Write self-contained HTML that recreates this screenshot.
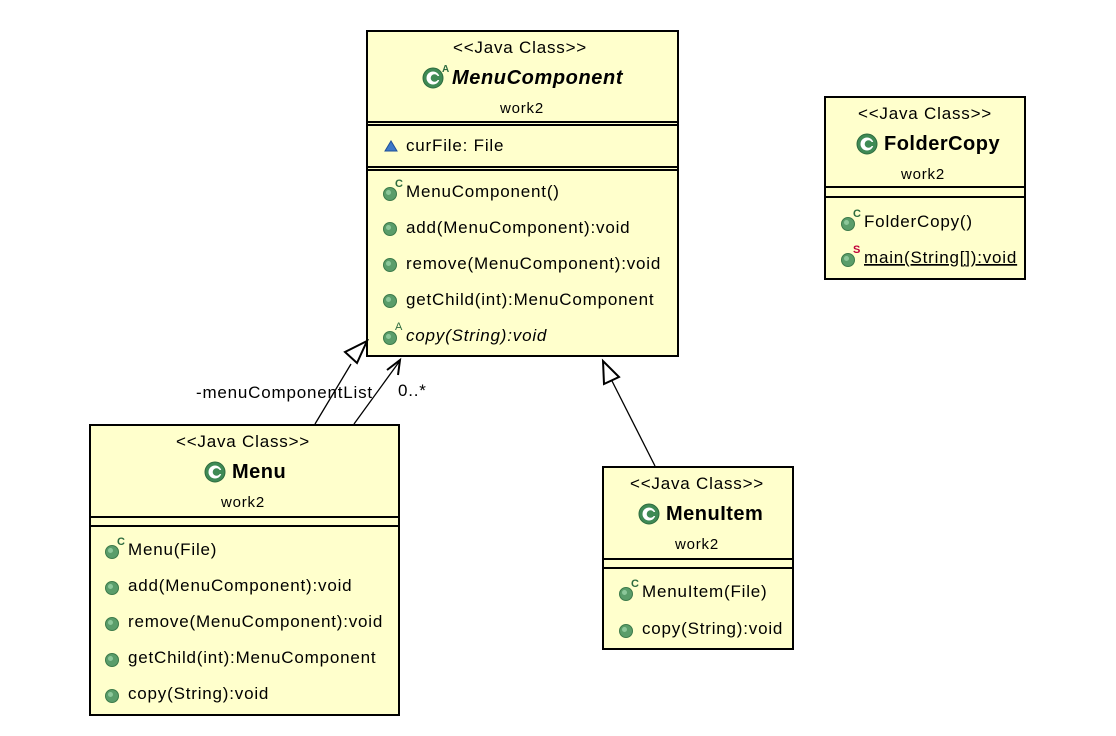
<!DOCTYPE html>
<html><head><meta charset="utf-8"><style>
html,body{margin:0;padding:0;background:#fff;}
svg text{font-family:"Liberation Sans",sans-serif;font-size:17px;letter-spacing:0.8px;fill:#000;}
</style></head><body>
<svg width="1116" height="731" xmlns="http://www.w3.org/2000/svg">
<defs>
<g id="m"><circle cx="0" cy="0" r="6.5" fill="#5a9d6a" stroke="#3c7a4a" stroke-width="1"/><circle cx="-1.5" cy="-1.5" r="2.5" fill="#8cc79a"/></g>
<g id="ci"><circle cx="0" cy="0" r="10" fill="#3f8a55" stroke="#2d6b3e"/><circle cx="0" cy="0" r="6.5" fill="#fff"/><circle cx="1.5" cy="0" r="3.8" fill="#3f8a55"/><rect x="2" y="-2" width="6" height="4" fill="#3f8a55"/></g>
</defs>

<!-- MenuComponent -->
<rect x="367" y="31" width="311" height="325" fill="#ffffcc" stroke="#000" stroke-width="2"/>
<line x1="367" y1="122" x2="678" y2="122" stroke="#000" stroke-width="2"/>
<line x1="367" y1="125" x2="678" y2="125" stroke="#000" stroke-width="2"/>
<line x1="367" y1="167" x2="678" y2="167" stroke="#000" stroke-width="2"/>
<line x1="367" y1="170" x2="678" y2="170" stroke="#000" stroke-width="2"/>
<text x="520" y="53" text-anchor="middle">&lt;&lt;Java Class&gt;&gt;</text>
<use href="#ci" x="433" y="78"/><text x="442" y="72" style="font-size:10px;fill:#2d6b3e;font-weight:bold">A</text>
<text x="452" y="84" style="font-weight:bold;font-style:italic;font-size:20px;letter-spacing:0.6px">MenuComponent</text>
<text x="522" y="113" text-anchor="middle" style="font-size:15px">work2</text>
<path d="M385 151 L391 141 L397 151 Z" fill="#3c78c8" stroke="#1e4f99"/>
<text x="406" y="151">curFile: File</text>
<use href="#m" x="390" y="194"/><text x="395" y="187" style="font-size:11px;fill:#2d6b3e;font-weight:bold">C</text><text x="406" y="197">MenuComponent()</text>
<use href="#m" x="390" y="229"/><text x="406" y="233">add(MenuComponent):void</text>
<use href="#m" x="390" y="265"/><text x="406" y="269">remove(MenuComponent):void</text>
<use href="#m" x="390" y="301"/><text x="406" y="305">getChild(int):MenuComponent</text>
<use href="#m" x="390" y="338"/><text x="395" y="330" style="font-size:11px;fill:#2d6b3e">A</text><text x="406" y="341" style="font-style:italic">copy(String):void</text>

<!-- FolderCopy -->
<rect x="825" y="97" width="200" height="182" fill="#ffffcc" stroke="#000" stroke-width="2"/>
<line x1="825" y1="187" x2="1025" y2="187" stroke="#000" stroke-width="2"/>
<line x1="825" y1="197" x2="1025" y2="197" stroke="#000" stroke-width="2"/>
<text x="925" y="119" text-anchor="middle">&lt;&lt;Java Class&gt;&gt;</text>
<use href="#ci" x="867" y="144"/>
<text x="884" y="150" style="font-weight:bold;font-size:20px;letter-spacing:0.5px">FolderCopy</text>
<text x="923" y="179" text-anchor="middle" style="font-size:15px">work2</text>
<use href="#m" x="848" y="224"/><text x="853" y="217" style="font-size:11px;fill:#2d6b3e;font-weight:bold">C</text><text x="864" y="227">FolderCopy()</text>
<use href="#m" x="848" y="260"/><text x="853" y="253" style="font-size:11px;fill:#c0003a;font-weight:bold">S</text><text x="864" y="263" text-decoration="underline">main(String[]):void</text>

<!-- Menu -->
<rect x="90" y="425" width="309" height="290" fill="#ffffcc" stroke="#000" stroke-width="2"/>
<line x1="90" y1="517" x2="399" y2="517" stroke="#000" stroke-width="2"/>
<line x1="90" y1="526" x2="399" y2="526" stroke="#000" stroke-width="2"/>
<text x="243" y="447" text-anchor="middle">&lt;&lt;Java Class&gt;&gt;</text>
<use href="#ci" x="215" y="472"/>
<text x="232" y="478" style="font-weight:bold;font-size:20px;letter-spacing:0.5px">Menu</text>
<text x="243" y="507" text-anchor="middle" style="font-size:15px">work2</text>
<use href="#m" x="112" y="552"/><text x="117" y="545" style="font-size:11px;fill:#2d6b3e;font-weight:bold">C</text><text x="128" y="555">Menu(File)</text>
<use href="#m" x="112" y="588"/><text x="128" y="591">add(MenuComponent):void</text>
<use href="#m" x="112" y="624"/><text x="128" y="627">remove(MenuComponent):void</text>
<use href="#m" x="112" y="660"/><text x="128" y="663">getChild(int):MenuComponent</text>
<use href="#m" x="112" y="696"/><text x="128" y="699">copy(String):void</text>

<!-- MenuItem -->
<rect x="603" y="467" width="190" height="182" fill="#ffffcc" stroke="#000" stroke-width="2"/>
<line x1="603" y1="559" x2="793" y2="559" stroke="#000" stroke-width="2"/>
<line x1="603" y1="568" x2="793" y2="568" stroke="#000" stroke-width="2"/>
<text x="697" y="489" text-anchor="middle">&lt;&lt;Java Class&gt;&gt;</text>
<use href="#ci" x="649" y="514"/>
<text x="666" y="520" style="font-weight:bold;font-size:20px;letter-spacing:0.5px">MenuItem</text>
<text x="697" y="549" text-anchor="middle" style="font-size:15px">work2</text>
<use href="#m" x="626" y="594"/><text x="631" y="587" style="font-size:11px;fill:#2d6b3e;font-weight:bold">C</text><text x="642" y="597">MenuItem(File)</text>
<use href="#m" x="626" y="631"/><text x="642" y="634">copy(String):void</text>

<!-- connectors -->
<line x1="315" y1="424" x2="351" y2="364" stroke="#000" stroke-width="1.3"/>
<path d="M367 341 L345 352 L357 363 Z" fill="#fff" stroke="#000" stroke-width="2"/>
<line x1="354" y1="424" x2="399" y2="362" stroke="#000" stroke-width="1.3"/>
<path d="M387 370 L400 360 L398 375" fill="none" stroke="#000" stroke-width="2"/>
<line x1="655" y1="466" x2="612" y2="381" stroke="#000" stroke-width="1.3"/>
<path d="M603 361 L604 384 L619 377 Z" fill="#fff" stroke="#000" stroke-width="2"/>
<text x="196" y="398">-menuComponentList</text>
<text x="398" y="396">0..*</text>
</svg>
</body></html>
